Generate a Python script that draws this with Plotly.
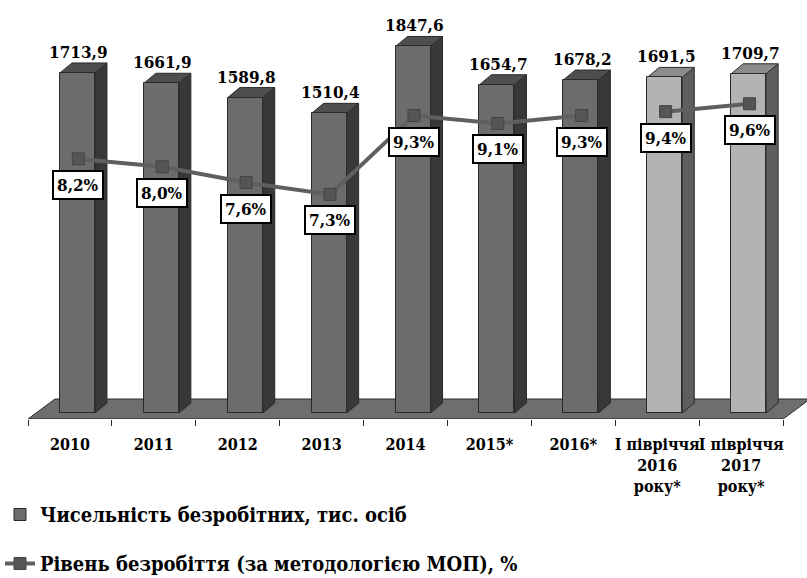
import plotly.graph_objects as go

# ---------------- data ----------------
categories = ["2010", "2011", "2012", "2013", "2014", "2015*", "2016*",
              "I півріччя<br>2016<br>року*", "I півріччя<br>2017<br>року*"]
unemployed = [1713.9, 1661.9, 1589.8, 1510.4, 1847.6, 1654.7, 1678.2, 1691.5, 1709.7]
rate = [8.2, 8.0, 7.6, 7.3, 9.3, 9.1, 9.3, 9.4, 9.6]
half_year = [False, False, False, False, False, False, False, True, True]
bar_name = "Чисельність безробітних, тис. осіб"
line_name = "Рівень безробіття (за методологією МОП), %"

# ---------------- geometry / style ----------------
CAT_PX = 83.9          # pixels per category
PX_PER_UNIT = 0.1984   # pixels per value unit on primary axis
OFF = 7.5 / CAT_PX     # bar front offset from category centre (3D depth)
BW = 35 / CAT_PX       # bar front width
DX = 12 / CAT_PX       # bar depth (x)
DY = 10 / PX_PER_UNIT  # bar depth (y)
FLOOR_DX = 27 / CAT_PX
FLOOR_FRONT = -6 / PX_PER_UNIT
FLOOR_BACK = 14 / PX_PER_UNIT
LINE_OFF = 0.1

FONT = "'DejaVu Serif Condensed', 'DejaVu Serif'"
front_dark, front_light = "#6c6c6c", "#b3b3b3"
side_dark, side_light = "#383838", "#5e5e5e"
top_dark, top_light = "#4e4e4e", "#8b8b8b"
edge = "#2a2a2a"

n = len(categories)
xs = list(range(n))

def b(s):
    return "<b>" + s.replace("<br>", "</b><br><b>") + "</b>"

fig = go.Figure()

# front faces of bars
fig.add_trace(go.Bar(
    x=[i + OFF for i in xs], y=unemployed, width=BW,
    marker=dict(color=[front_light if h else front_dark for h in half_year],
                line=dict(color=edge, width=1)),
    name=b(bar_name), legendgroup="a", showlegend=True, hoverinfo="y",
))

# rate line (broken between annual and half-year data)
lx, ly = [], []
for i in xs:
    if i == 7:
        lx.append(6.5)
        ly.append(None)
    lx.append(i + LINE_OFF)
    ly.append(rate[i])
fig.add_trace(go.Scatter(
    x=lx, y=ly, yaxis="y2", mode="lines+markers", connectgaps=False,
    line=dict(color="#5f5f5f", width=4),
    marker=dict(symbol="square", size=12, color="#555555",
                line=dict(color="#444444", width=1)),
    name=b(line_name), legendgroup="b",
))

shapes = []
# floor
fx0, fx1 = -0.5, n - 0.5
shapes.append(dict(
    type="path", xref="x", yref="y", layer="below",
    path=(f"M{fx0},{FLOOR_FRONT} L{fx1},{FLOOR_FRONT} "
          f"L{fx1 + FLOOR_DX},{FLOOR_BACK} L{fx0 + FLOOR_DX},{FLOOR_BACK} Z"),
    fillcolor="#6e6e6e", line=dict(color=edge, width=1),
))
# side and top faces of the bars
for i, v in enumerate(unemployed):
    xl = i + OFF - BW / 2
    xr = i + OFF + BW / 2
    sc = side_light if half_year[i] else side_dark
    tc = top_light if half_year[i] else top_dark
    shapes.append(dict(
        type="path", xref="x", yref="y", layer="below",
        path=f"M{xr},0 L{xr + DX},{DY} L{xr + DX},{v + DY} L{xr},{v} Z",
        fillcolor=sc, line=dict(color=edge, width=1),
    ))
    shapes.append(dict(
        type="path", xref="x", yref="y", layer="below",
        path=f"M{xl},{v} L{xr},{v} L{xr + DX},{v + DY} L{xl + DX},{v + DY} Z",
        fillcolor=tc, line=dict(color=edge, width=1),
    ))

annotations = []
for i, v in enumerate(unemployed):
    annotations.append(dict(
        x=i + OFF + 1.5 / CAT_PX, y=v, xref="x", yref="y",
        text=b(f"{v:.1f}".replace(".", ",")), showarrow=False,
        yanchor="middle", yshift=21,
        font=dict(family=FONT, size=17, color="black"),
    ))
for i, r in enumerate(rate):
    annotations.append(dict(
        x=i + LINE_OFF, y=r, xref="x", yref="y2",
        text=b(f"{r:.1f}%".replace(".", ",")), showarrow=False,
        yanchor="middle", yshift=-26,
        bgcolor="white", bordercolor="black", borderwidth=2, borderpad=3,
        font=dict(family=FONT, size=17, color="black"),
    ))

PLOT_W = 807 - 28
PLOT_H = 419
y0 = FLOOR_FRONT
y1 = y0 + PLOT_H / PX_PER_UNIT
r_px0, r_slope = 482.0, 39.4
y2_lo = (r_px0 - PLOT_H) / r_slope
y2_hi = r_px0 / r_slope

fig.update_layout(
    width=807, height=578, autosize=False,
    margin=dict(l=28, r=0, t=0, b=578 - PLOT_H, autoexpand=False),
    paper_bgcolor="white", plot_bgcolor="white",
    font=dict(family=FONT, color="black"),
    bargap=0,
    xaxis=dict(
        range=[-0.5, -0.5 + PLOT_W / CAT_PX], showgrid=False, zeroline=False,
        showline=False, tickmode="array", tickvals=xs,
        ticktext=[b(c) for c in categories], tickangle=0,
        ticks="outside", ticklen=11, tickcolor="rgba(0,0,0,0)",
        tickfont=dict(family=FONT, size=16, color="black"),
        minor=dict(tickmode="array", tickvals=[i - 0.5 for i in range(n + 1)],
                   ticks="outside", ticklen=6, tickcolor=edge, tickwidth=1),
        fixedrange=True,
    ),
    yaxis=dict(range=[y0, y1], visible=False, fixedrange=True),
    yaxis2=dict(range=[y2_lo, y2_hi], overlaying="y", visible=False, fixedrange=True),
    shapes=shapes,
    annotations=annotations,
    showlegend=True,
    legend=dict(
        x=-28 / PLOT_W, xanchor="left", y=-(495 - PLOT_H) / PLOT_H, yanchor="top",
        bgcolor="rgba(0,0,0,0)", tracegroupgap=20, traceorder="grouped",
        font=dict(family=FONT, size=20, color="black"),
    ),
)

fig.write_html(
    "out.html",
    config={"displayModeBar": False},
    post_script="document.body.style.margin='0';document.body.style.overflow='hidden';",
)
